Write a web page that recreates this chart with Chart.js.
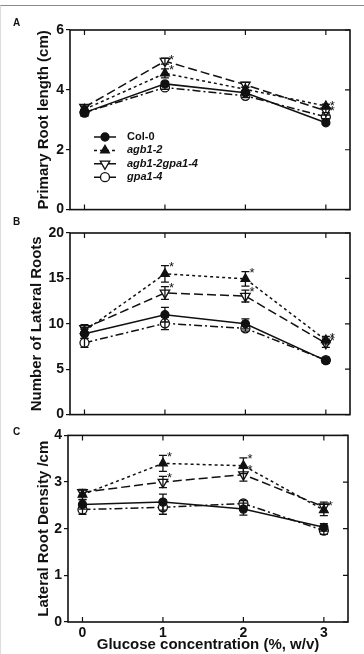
<!DOCTYPE html>
<html>
<head>
<meta charset="utf-8">
<script src="https://cdn.jsdelivr.net/npm/chart.js@4.4.0/dist/chart.umd.min.js"></script>
<style>
    html, body { margin: 0; padding: 0; background: #fff; }
    #page { position: relative; width: 364px; height: 654px; overflow: hidden; }
    #frame { position: absolute; left: 0; top: 5px; width: 363px; height: 660px; border-top: 1px solid #8a8a8a; border-left: 1px solid #dcdcdc; }
    .box { position: absolute; left: 0; width: 364px; }
    .panel { position: absolute; left: 13px; font: bold 10px "Liberation Sans", Arial, sans-serif; color: #111; }
</style>
</head>
<body>
<div id="page">
    <div id="frame"></div>
    <div class="box" style="top:0;height:220px"><canvas id="chartA" width="364" height="220"></canvas></div>
    <div class="box" style="top:220px;height:205px"><canvas id="chartB" width="364" height="205"></canvas></div>
    <div class="box" style="top:425px;height:229px"><canvas id="chartC" width="364" height="229"></canvas></div>
    <div class="panel" style="top:17px">A</div>
    <div class="panel" style="top:216px">B</div>
    <div class="panel" style="top:426px">C</div>
</div>
<script>
const glucose = [0, 1, 2, 3];
const xTicks = [0, 1, 2, 3];
const genotypes = ['Col-0', 'agb1-2', 'agb1-2gpa1-4', 'gpa1-4'];

// A - primary root length (cm)
const lengthTicks = [0, 2, 4, 6];
const lengthCol0 = [3.24, 4.2, 3.9, 2.9];
const lengthAgb1 = [3.35, 4.55, 4.02, 3.46];
const lengthDouble = [3.42, 4.96, 4.17, 3.3];
const lengthGpa1 = [3.24, 4.08, 3.8, 3.1];
const lengthCol0Err = [0.12, 0.06, 0.06, 0.05];
const lengthAgb1Err = [0.1, 0.15, 0.06, 0.06];
const lengthDoubleErr = [0.08, 0.1, 0.08, 0.06];
const lengthGpa1Err = [0.1, 0.06, 0.06, 0.06];
const lengthAgb1Star = [0, 1, 0, 1];
const lengthDoubleStar = [0, 1, 0, 1];

// B - number of lateral roots
const lateralTicks = [0, 5, 10, 15, 20];
const lateralCol0 = [8.9, 11.0, 10.0, 5.95];
const lateralAgb1 = [9.2, 15.5, 14.95, 8.2];
const lateralDouble = [9.5, 13.4, 13.05, 7.85];
const lateralGpa1 = [7.9, 10.05, 9.5, 6.0];
const lateralCol0Err = [0.5, 0.8, 0.55, 0.3];
const lateralAgb1Err = [0.4, 0.9, 0.8, 0.4];
const lateralDoubleErr = [0.4, 0.7, 0.65, 0.45];
const lateralGpa1Err = [0.5, 0.7, 0.3, 0.3];
const lateralAgb1Star = [0, 1, 1, 1];
const lateralDoubleStar = [0, 1, 1, 1];

// C - lateral root density (/cm)
const densityTicks = [0, 1, 2, 3, 4];
const densityCol0 = [2.52, 2.57, 2.42, 2.03];
const densityAgb1 = [2.73, 3.4, 3.35, 2.4];
const densityDouble = [2.78, 3.0, 3.16, 2.47];
const densityGpa1 = [2.41, 2.46, 2.54, 1.96];
const densityCol0Err = [0.1, 0.17, 0.13, 0.08];
const densityAgb1Err = [0.1, 0.17, 0.17, 0.12];
const densityDoubleErr = [0.06, 0.12, 0.14, 0.1];
const densityGpa1Err = [0.1, 0.15, 0.06, 0.08];
const densityAgb1Star = [0, 1, 1, 1];
const densityDoubleStar = [0, 1, 1, 0];

const FONT = '"Liberation Sans", Arial, sans-serif';
const INK = '#111';

// marker / line look per genotype
const seriesStyle = [
    { pointStyle: 'circle', radius: 4, fill: INK, dash: [], rotation: 0 },
    { pointStyle: 'triangle', radius: 5, fill: INK, dash: [3, 3], rotation: 0 },
    { pointStyle: 'triangle', radius: 5.5, fill: '#fff', dash: [9, 4], rotation: 180 },
    { pointStyle: 'circle', radius: 4.5, fill: '#fff', dash: [8, 3, 2, 3], rotation: 0 }
];

// box with inward ticks
const framePlugin = {
    id: 'frame',
    afterDraw(chart) {
        const { ctx, chartArea: a, scales: { x, y } } = chart;
        ctx.save();
        ctx.strokeStyle = INK;
        ctx.setLineDash([]);
        ctx.lineWidth = 1.6;
        ctx.strokeRect(a.left, a.top, a.right - a.left, a.bottom - a.top);
        ctx.lineWidth = 1.2;
        ctx.beginPath();
        x.ticks.forEach(t => {
            const px = x.getPixelForValue(t.value);
            ctx.moveTo(px, a.top); ctx.lineTo(px, a.top + 5);
            ctx.moveTo(px, a.bottom); ctx.lineTo(px, a.bottom - 5);
        });
        y.ticks.forEach(t => {
            const py = y.getPixelForValue(t.value);
            ctx.moveTo(a.right, py); ctx.lineTo(a.right - 5, py);
        });
        ctx.stroke();
        ctx.restore();
    }
};

// error bars and significance stars
const errorPlugin = {
    id: 'errors',
    afterDatasetsDraw(chart) {
        const { ctx, scales: { x, y } } = chart;
        ctx.save();
        ctx.strokeStyle = INK;
        ctx.fillStyle = INK;
        ctx.lineWidth = 1.3;
        ctx.setLineDash([]);
        ctx.font = '13px ' + FONT;
        ctx.textAlign = 'left';
        ctx.textBaseline = 'middle';
        chart.data.datasets.forEach(ds => {
            ds.data.forEach((p, i) => {
                const px = x.getPixelForValue(p.x);
                const top = y.getPixelForValue(p.y + ds.errors[i]);
                const bot = y.getPixelForValue(p.y - ds.errors[i]);
                ctx.beginPath();
                ctx.moveTo(px, top); ctx.lineTo(px, bot);
                ctx.moveTo(px - 4, top); ctx.lineTo(px + 4, top);
                ctx.moveTo(px - 4, bot); ctx.lineTo(px + 4, bot);
                ctx.stroke();
                if (ds.stars && ds.stars[i]) {
                    ctx.fillText('*', px + 4, top + 2);
                }
            });
        });
        ctx.restore();
    }
};

// legend block inside panel A
const legendPlugin = {
    id: 'rootLegend',
    afterDraw(chart) {
        const { ctx } = chart;
        const x0 = 94, y0 = 137, step = 13.4;
        ctx.save();
        chart.data.datasets.forEach((ds, i) => {
            const st = seriesStyle[i];
            const y = y0 + i * step;
            ctx.strokeStyle = INK;
            ctx.lineWidth = 1.5;
            ctx.setLineDash(st.dash);
            ctx.beginPath();
            ctx.moveTo(x0, y); ctx.lineTo(x0 + 22, y);
            ctx.stroke();
            ctx.setLineDash([]);
            ctx.fillStyle = st.fill;
            ctx.lineWidth = 1.3;
            Chart.helpers.drawPoint(ctx, { pointStyle: st.pointStyle, rotation: st.rotation, radius: st.radius, borderWidth: 1.3 }, x0 + 11, y);
            ctx.fillStyle = INK;
            ctx.font = (i === 0 ? '' : 'italic ') + 'bold 11px ' + FONT;
            ctx.textAlign = 'left';
            ctx.textBaseline = 'middle';
            ctx.fillText(ds.label, x0 + 33, y);
        });
        ctx.restore();
    }
};

function makeChart(id, o) {
    const datasets = o.values.map((vals, i) => {
        const st = seriesStyle[i];
        return {
            label: genotypes[i],
            data: glucose.map((g, j) => ({ x: g, y: vals[j] })),
            errors: o.errors[i],
            stars: o.stars[i],
            borderColor: INK,
            borderWidth: 1.5,
            borderDash: st.dash,
            pointStyle: st.pointStyle,
            pointRadius: st.radius,
            pointRotation: st.rotation,
            pointBackgroundColor: st.fill,
            pointBorderColor: INK,
            pointBorderWidth: 1.3,
            tension: 0,
            fill: false
        };
    });
    const plugins = [framePlugin, errorPlugin];
    if (o.legend) plugins.push(legendPlugin);

    return new Chart(document.getElementById(id), {
        type: 'line',
        data: { datasets },
        options: {
            responsive: false,
            animation: false,
            layout: { padding: { top: o.padTop, right: o.padRight, left: 0, bottom: 0 } },
            plugins: { legend: { display: false }, tooltip: { enabled: false } },
            scales: {
                x: {
                    type: 'linear',
                    min: -0.18,
                    max: 3.3,
                    afterBuildTicks: s => { s.ticks = xTicks.map(v => ({ value: v })); },
                    afterFit: s => { s.height = o.xHeight; },
                    grid: { display: false, drawTicks: false },
                    border: { display: false },
                    ticks: { display: o.showX, color: INK, padding: 3, font: { family: FONT, size: 14, weight: 'bold' } },
                    title: {
                        display: o.showX,
                        text: 'Glucose concentration (%, w/v)',
                        color: INK,
                        padding: { top: 0, bottom: 0 },
                        font: { family: FONT, size: 15, weight: 'bold' }
                    }
                },
                y: {
                    min: 0,
                    max: o.ticks[o.ticks.length - 1],
                    afterBuildTicks: s => { s.ticks = o.ticks.map(v => ({ value: v })); },
                    afterFit: s => { s.width = o.yWidth; },
                    grid: { drawOnChartArea: false, tickLength: 4, color: INK, lineWidth: 1.2 },
                    border: { display: false },
                    ticks: { color: INK, padding: 2, font: { family: FONT, size: 14, weight: 'bold' } },
                    title: {
                        display: true,
                        text: o.yTitle,
                        color: INK,
                        padding: { top: o.titlePad, bottom: 0 },
                        font: { family: FONT, size: 15, weight: 'bold' }
                    }
                }
            }
        },
        plugins
    });
}

makeChart('chartA', {
    values: [lengthCol0, lengthAgb1, lengthDouble, lengthGpa1],
    errors: [lengthCol0Err, lengthAgb1Err, lengthDoubleErr, lengthGpa1Err],
    stars: [null, lengthAgb1Star, lengthDoubleStar, null],
    ticks: lengthTicks,
    yTitle: 'Primary Root length (cm)',
    padTop: 30, padRight: 14, xHeight: 5, yWidth: 70, titlePad: 35,
    showX: false, legend: true
});

makeChart('chartB', {
    values: [lateralCol0, lateralAgb1, lateralDouble, lateralGpa1],
    errors: [lateralCol0Err, lateralAgb1Err, lateralDoubleErr, lateralGpa1Err],
    stars: [null, lateralAgb1Star, lateralDoubleStar, null],
    ticks: lateralTicks,
    yTitle: 'Number of Lateral Roots',
    padTop: 13, padRight: 14, xHeight: 6, yWidth: 70, titlePad: 28,
    showX: false, legend: false
});

makeChart('chartC', {
    values: [densityCol0, densityAgb1, densityDouble, densityGpa1],
    errors: [densityCol0Err, densityAgb1Err, densityDoubleErr, densityGpa1Err],
    stars: [null, densityAgb1Star, densityDoubleStar, null],
    ticks: densityTicks,
    yTitle: 'Lateral Root Density /cm',
    padTop: 10, padRight: 16, xHeight: 32, yWidth: 68, titlePad: 35,
    showX: true, legend: false
});
</script>
</body>
</html>
